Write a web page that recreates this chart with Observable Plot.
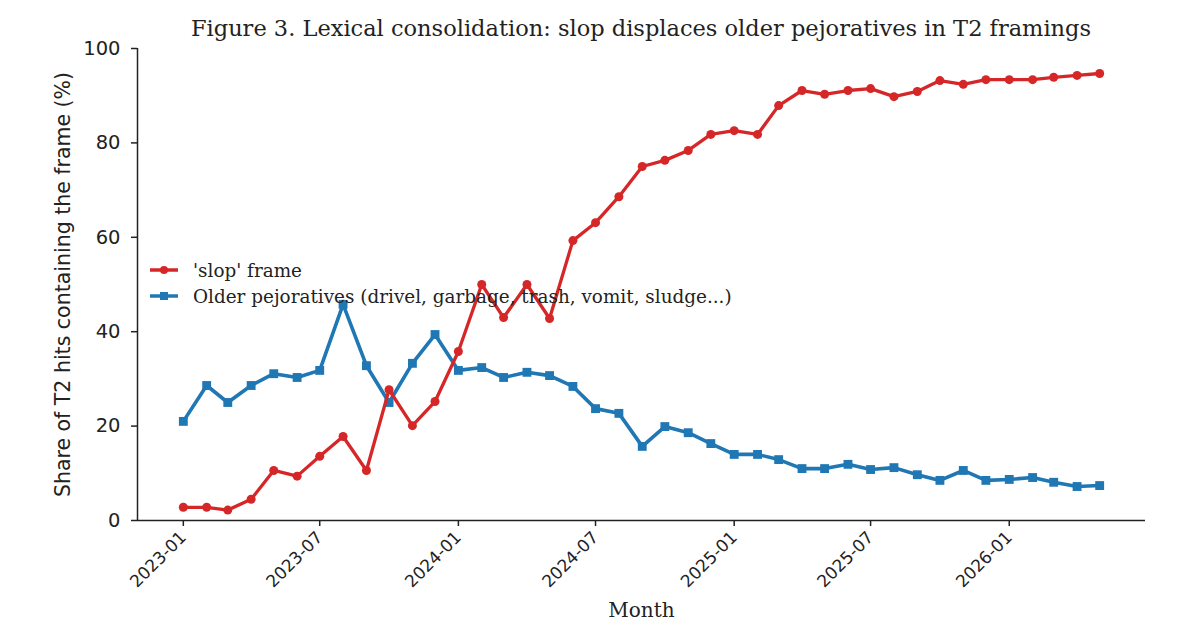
<!DOCTYPE html>
<html><head><meta charset="utf-8">
<script src="https://cdn.jsdelivr.net/npm/d3@7"></script>
<script src="https://cdn.jsdelivr.net/npm/@observablehq/plot@0.6"></script>
<style>
body{margin:0;background:#fff;width:1199px;height:632px;overflow:hidden;position:relative}
#title{height:30px;position:relative;font-family:"DejaVu Serif";font-size:22.5px;color:#222}
#title span{position:absolute;left:641px;top:15px;transform:translateX(-50%);white-space:nowrap}
#legend{position:absolute;left:150px;top:257px;font-family:"DejaVu Serif";font-size:18.4px;color:#222}
#legend div{display:flex;align-items:center;height:26px}
#legend svg{margin-right:15px}
</style></head><body>
<div id="title"><span>Figure 3. Lexical consolidation: slop displaces older pejoratives in T2 framings</span></div>
<div id="chart"></div>
<div id="legend"></div>
<script>
const months = ["2023-01","2023-02","2023-03","2023-04","2023-05","2023-06","2023-07","2023-08","2023-09","2023-10","2023-11","2023-12",
"2024-01","2024-02","2024-03","2024-04","2024-05","2024-06","2024-07","2024-08","2024-09","2024-10","2024-11","2024-12",
"2025-01","2025-02","2025-03","2025-04","2025-05","2025-06","2025-07","2025-08","2025-09","2025-10","2025-11","2025-12",
"2026-01","2026-02","2026-03","2026-04","2026-05"];
const slopShare = [2.8,2.8,2.2,4.5,10.6,9.4,13.6,17.8,10.6,27.7,20.1,25.2,
35.8,50.0,43.0,50.0,42.8,59.3,63.1,68.6,75.0,76.3,78.4,81.8,
82.6,81.8,87.9,91.1,90.3,91.1,91.5,89.8,90.9,93.2,92.4,93.4,
93.4,93.4,93.9,94.3,94.7];
const olderShare = [21.0,28.6,25.0,28.6,31.1,30.3,31.8,45.8,32.8,25.0,33.3,39.4,
31.8,32.4,30.3,31.4,30.7,28.4,23.7,22.7,15.7,19.9,18.6,16.3,
14.0,14.0,12.9,11.0,11.0,11.9,10.8,11.2,9.7,8.5,10.6,8.5,
8.7,9.1,8.1,7.2,7.4];
const xTickLabels = ["2023-01","2023-07","2024-01","2024-07","2025-01","2025-07","2026-01"];
const yTicks = [0,20,40,60,80,100];
const seriesNames = ["'slop' frame","Older pejoratives (drivel, garbage, trash, vomit, sludge...)"];
const seriesColors = ["#d62728","#1f77b4"];

const parse = d3.utcParse("%Y-%m");
const slopData = months.map((m,i)=>({date:parse(m), v:slopShare[i]}));
const olderData = months.map((m,i)=>({date:parse(m), v:olderShare[i]}));
const first = parse(months[0]), last = parse(months[months.length-1]);
const pad = (last - first) * 0.05;
const xDomain = [new Date(+first - pad), new Date(+last + pad)];

const chart = Plot.plot({
  width: 1199, height: 602,
  marginTop: 18, marginBottom: 112, marginLeft: 137, marginRight: 54,
  style: {background: "#fff", color: "#222", overflow: "visible"},
  x: {type: "utc", domain: xDomain},
  y: {domain: [0,100]},
  marks: [
    Plot.axisY({ticks: yTicks, tickSize: 6, tickPadding: 11, fontSize: 19.5, fontFamily: "DejaVu Sans", label: null, stroke: "#222", strokeWidth: 1.5}),
    Plot.axisX({ticks: xTickLabels.map(parse), tickFormat: d3.utcFormat("%Y-%m"), tickSize: 6, tickPadding: 8, tickRotate: -45, fontSize: 17, fontFamily: "DejaVu Sans", label: null, stroke: "#222", strokeWidth: 1.5}),
    Plot.ruleY([0], {stroke: "#222", strokeWidth: 1.5}),
    Plot.ruleX([xDomain[0]], {stroke: "#222", strokeWidth: 1.5}),
    Plot.line(olderData, {x: "date", y: "v", stroke: seriesColors[1], strokeWidth: 3.6}),
    Plot.dot(olderData, {x: "date", y: "v", symbol: "square", r: 5, fill: seriesColors[1], stroke: "none"}),
    Plot.line(slopData, {x: "date", y: "v", stroke: seriesColors[0], strokeWidth: 3.3}),
    Plot.dot(slopData, {x: "date", y: "v", r: 4.5, fill: seriesColors[0], stroke: "none"}),
    Plot.text(["Share of T2 hits containing the frame (%)"], {frameAnchor: "left", dx: -74, rotate: -90, textAnchor: "middle", fontSize: 20.5, fontFamily: "DejaVu Sans", fill: "#222"}),
    Plot.text(["Month"], {frameAnchor: "bottom", dy: 96, textAnchor: "middle", fontSize: 20, fontFamily: "DejaVu Serif", fill: "#222"})
  ]
});
document.getElementById("chart").appendChild(chart);

const legend = document.getElementById("legend");
seriesNames.forEach((name,i)=>{
  const row = document.createElement("div");
  const sym = i===0 ? `<circle cx="14" cy="6" r="4" fill="${seriesColors[i]}"/>` : `<rect x="10" y="2" width="8" height="8" fill="${seriesColors[i]}"/>`;
  row.innerHTML = `<svg width="28" height="12"><line x1="0" x2="28" y1="6" y2="6" stroke="${seriesColors[i]}" stroke-width="3.5"/>${sym}</svg><span>${name.replace(/</g,"&lt;")}</span>`;
  legend.appendChild(row);
});
</script>
</body></html>
